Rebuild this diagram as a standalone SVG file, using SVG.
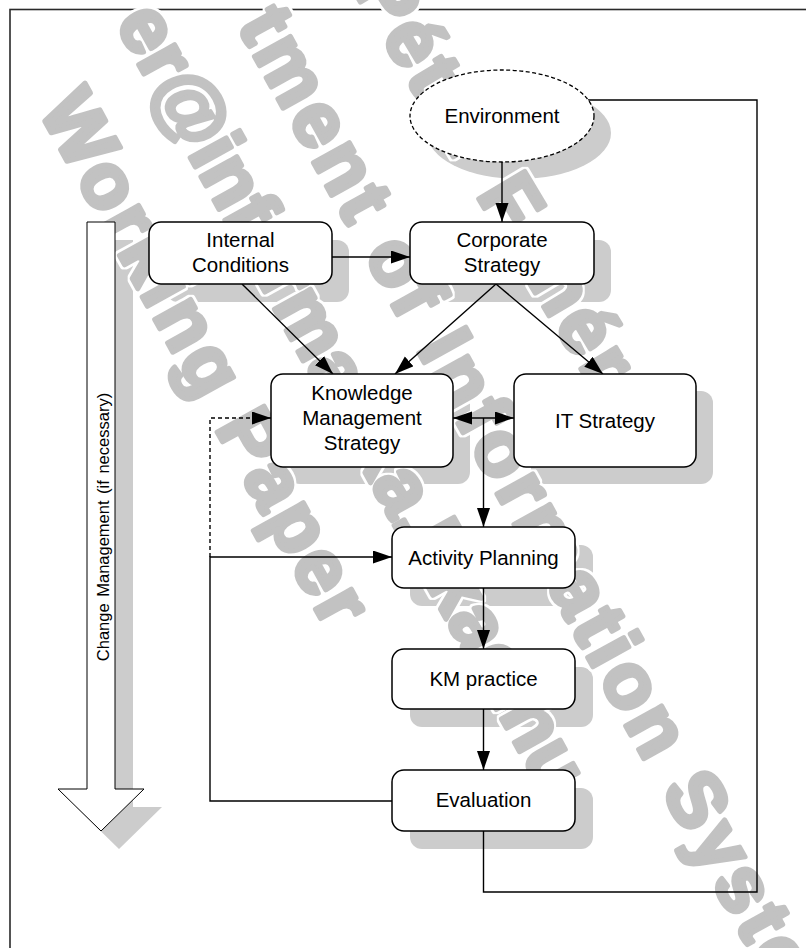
<svg xmlns="http://www.w3.org/2000/svg" width="806" height="948" viewBox="0 0 806 948">
<style>
.frame{fill:none;stroke:#2a2a2a;stroke-width:1.6}
.shadow{fill:#cccccc;stroke:none}
.wm{font-family:"Liberation Sans",Arial,sans-serif;font-weight:bold;font-size:78px;fill:#c2c2c2;stroke:#c2c2c2;stroke-width:5;stroke-linejoin:round}
.box{fill:#ffffff;stroke:#000000;stroke-width:1.5}
.lbl{font-family:"Liberation Sans",Arial,sans-serif;font-size:20.5px;fill:#000000;text-anchor:middle}
.con{fill:none;stroke:#000000;stroke-width:1.4}
.dash{stroke-dasharray:4 3}
</style>
<defs>
<marker id="ah" markerUnits="userSpaceOnUse" markerWidth="20" markerHeight="14" refX="19" refY="6.5" orient="auto-start-reverse" viewBox="0 0 20 14">
<path d="M0,0 L19,6.5 L0,13 z" fill="#000000"/>
</marker>
<filter id="halo" x="-5%" y="-20%" width="110%" height="140%">
<feMorphology in="SourceAlpha" operator="dilate" radius="2" result="d"/>
<feFlood flood-color="#ffffff"/>
<feComposite in2="d" operator="in" result="w"/>
<feMerge><feMergeNode in="w"/><feMergeNode in="SourceGraphic"/></feMerge>
</filter>
</defs>
<rect class="frame" x="10" y="9.5" width="830" height="980"/>
<g id="shadows">
<polygon class="shadow" points="105,240 133,240 133,807 162,807 119,849 76,807 105,807"/>
<ellipse class="shadow" cx="519" cy="133" rx="92" ry="46"/>
<rect class="shadow" x="166" y="240" width="183" height="62" rx="12"/>
<rect class="shadow" x="427" y="240" width="184" height="62" rx="12"/>
<rect class="shadow" x="288" y="391" width="182" height="93" rx="12"/>
<rect class="shadow" x="531" y="391" width="182" height="93" rx="12"/>
<rect class="shadow" x="410" y="545" width="183" height="61" rx="12"/>
<rect class="shadow" x="410" y="667" width="183" height="60" rx="12"/>
<rect class="shadow" x="410" y="788" width="183" height="61" rx="12"/>
</g>
<g id="watermark" filter="url(#halo)">
<text class="wm" transform="translate(38,109) rotate(61)" letter-spacing="4">Working Paper</text>
<text class="wm" transform="translate(115,22) rotate(61)">er@informatika.bkae.hu</text>
<text class="wm" transform="translate(237,25) rotate(61)" letter-spacing="4.5">tment of Information Systems</text>
<text class="wm" transform="translate(352,-12) rotate(59)" letter-spacing="4">Péter Fehér</text>
</g>
<g id="connectors">
<line class="con" x1="502" y1="162" x2="502" y2="222" marker-end="url(#ah)"/>
<line class="con" x1="332" y1="257" x2="410" y2="257" marker-end="url(#ah)"/>
<line class="con" x1="242" y1="284" x2="333" y2="374" marker-end="url(#ah)"/>
<line class="con" x1="496" y1="284" x2="395" y2="374" marker-end="url(#ah)"/>
<line class="con" x1="496" y1="284" x2="603" y2="374" marker-end="url(#ah)"/>
<line class="con" x1="453" y1="418" x2="514" y2="418" marker-start="url(#ah)" marker-end="url(#ah)"/>
<line class="con" x1="483.5" y1="418" x2="483.5" y2="527" marker-end="url(#ah)"/>
<line class="con" x1="483.5" y1="588" x2="483.5" y2="649" marker-end="url(#ah)"/>
<line class="con" x1="483.5" y1="709" x2="483.5" y2="770" marker-end="url(#ah)"/>
<polyline class="con" points="392,801 210,801 210,557 392,557" marker-end="url(#ah)"/>
<polyline class="con dash" points="210,557 210,418 271,418" marker-end="url(#ah)"/>
<polyline class="con" points="588,100 757,100 757,892 483.5,892 483.5,831"/>
</g>
<g id="change-management">
<polygon points="87,222 115,222 115,789 144,789 101,831 58,789 87,789" fill="#ffffff" stroke="#000000" stroke-width="1"/>
<text class="lbl" style="font-size:16.5px" word-spacing="2" transform="translate(109,527) rotate(-90)">Change Management (if necessary)</text>
</g>
<g id="environment">
<ellipse cx="502" cy="116" rx="92" ry="46" fill="#ffffff" stroke="#000000" stroke-width="1.3" stroke-dasharray="4 2.5"/>
<text class="lbl" x="502" y="123">Environment</text>
</g>
<g id="internal-conditions">
<rect class="box" x="149" y="222" width="183" height="62" rx="12"/>
<text class="lbl" x="240.5" y="247">Internal</text>
<text class="lbl" x="240.5" y="272">Conditions</text>
</g>
<g id="corporate-strategy">
<rect class="box" x="410" y="222" width="184" height="62" rx="12"/>
<text class="lbl" x="502" y="247">Corporate</text>
<text class="lbl" x="502" y="272">Strategy</text>
</g>
<g id="km-strategy">
<rect class="box" x="271" y="374" width="182" height="93" rx="12"/>
<text class="lbl" x="362" y="400">Knowledge</text>
<text class="lbl" x="362" y="425">Management</text>
<text class="lbl" x="362" y="450">Strategy</text>
</g>
<g id="it-strategy">
<rect class="box" x="514" y="374" width="182" height="93" rx="12"/>
<text class="lbl" x="605" y="428">IT Strategy</text>
</g>
<g id="activity-planning">
<rect class="box" x="392" y="527" width="183" height="61" rx="12"/>
<text class="lbl" x="483.5" y="565">Activity Planning</text>
</g>
<g id="km-practice">
<rect class="box" x="392" y="649" width="183" height="60" rx="12"/>
<text class="lbl" x="483.5" y="686">KM practice</text>
</g>
<g id="evaluation">
<rect class="box" x="392" y="770" width="183" height="61" rx="12"/>
<text class="lbl" x="483.5" y="807">Evaluation</text>
</g>
</svg>
